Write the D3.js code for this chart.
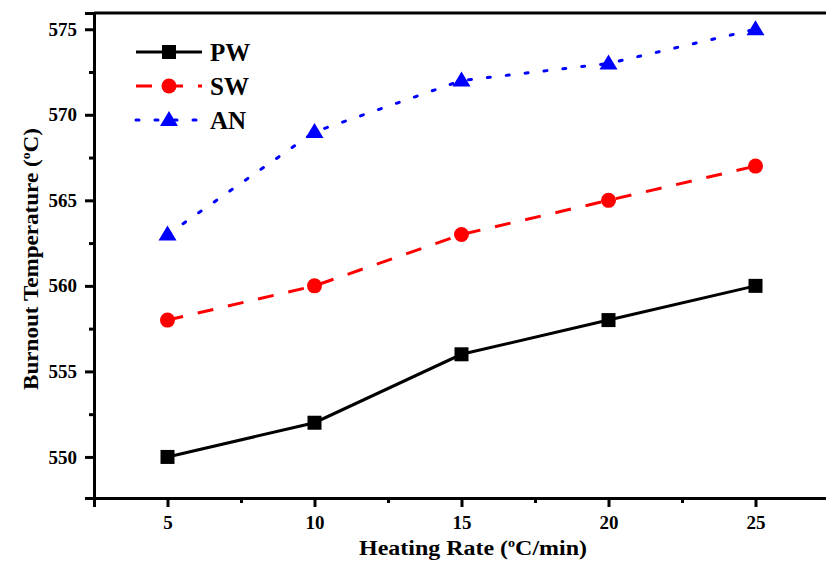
<!DOCTYPE html>
<html>
<head>
<meta charset="utf-8">
<script src="https://cdn.jsdelivr.net/npm/d3@7"></script>
<style>
  html, body { margin: 0; padding: 0; background: #fff; }
  svg { display: block; }
  text { font-family: "Liberation Serif", "Times New Roman", serif; font-weight: bold; fill: #000; }
</style>
</head>
<body>
<svg id="chart" width="826" height="561"></svg>
<script>
// Heating rates (°C/min)
const heatingRates = [5, 10, 15, 20, 25];
// Burnout temperatures (°C) per sample
const pwValues = [550, 552, 556, 558, 560];
const swValues = [558, 560, 563, 565, 567];
const anValues = [563, 569, 572, 573, 575];
const seriesNames = ["PW", "SW", "AN"];
const xTickValues = [5, 10, 15, 20, 25];
const yTickValues = [550, 555, 560, 565, 570, 575];

const svg = d3.select("#chart");
const margin = { left: 94, top: 13, right: -3, bottom: 63 };
const W = 826, H = 561;

const x = d3.scaleLinear().domain([2.5, 27.5]).range([margin.left, W - margin.right]);
const y = d3.scaleLinear().domain([547.6, 575.95]).range([H - margin.bottom, margin.top]);

const series = [
  { name: seriesNames[0], values: pwValues, color: "#000000", dash: null, cap: "butt", shape: "square" },
  { name: seriesNames[1], values: swValues, color: "#ff0000", dash: "16 15", cap: "butt", shape: "circle" },
  { name: seriesNames[2], values: anValues, color: "#0000ff", dash: "3 16", cap: "round", shape: "triangle" }
];

// Frame: top border
svg.append("line")
  .attr("x1", margin.left).attr("x2", W)
  .attr("y1", margin.top).attr("y2", margin.top)
  .attr("stroke", "#000").attr("stroke-width", 3);

// Axes
const xAxis = d3.axisBottom(x).tickValues(xTickValues).tickFormat(d3.format("d")).tickSize(9).tickPadding(9);
const xMinor = d3.axisBottom(x).tickValues([7.5, 12.5, 17.5, 22.5]).tickFormat("").tickSize(5);
const yAxis = d3.axisLeft(y).tickValues(yTickValues).tickFormat(d3.format("d")).tickSize(9).tickPadding(8);
const yMinor = d3.axisLeft(y).tickValues([552.5, 557.5, 562.5, 567.5, 572.5]).tickFormat("").tickSize(5);

function styleAxis(g) {
  g.attr("font-family", null).attr("font-size", null);
  g.select(".domain").attr("stroke", "#000").attr("stroke-width", 3);
  g.selectAll(".tick line").attr("stroke", "#000").attr("stroke-width", 3);
  g.selectAll(".tick text")
    .style("font-size", "19px")
    .style("font-family", "'Liberation Serif', serif")
    .style("font-weight", "bold");
}

const bottomY = y.range()[0];
svg.append("g").attr("transform", `translate(0,${bottomY})`).call(xMinor).call(styleAxis);
svg.append("g").attr("transform", `translate(0,${bottomY})`).call(xAxis).call(styleAxis);
svg.append("g").attr("transform", `translate(${margin.left},0)`).call(yMinor).call(styleAxis);
svg.append("g").attr("transform", `translate(${margin.left},0)`).call(yAxis).call(styleAxis);

// Stretch a centred title horizontally (in its own frame) to a given length
function fitWidth(textSel, target) {
  const w = textSel.node().getBBox().width;
  return target / w;
}

// Axis titles
const xTitle = svg.append("text")
  .attr("text-anchor", "middle")
  .style("font-size", "22px");
xTitle.append("tspan").text("Heating Rate (");
xTitle.append("tspan").text("o").attr("dy", -8).style("font-size", "13px");
xTitle.append("tspan").text("C/min)").attr("dy", 8);
const kx = fitWidth(xTitle, 228);
xTitle.attr("transform", `translate(473,555) scale(${kx},1)`);

const yTitle = svg.append("text")
  .attr("text-anchor", "middle")
  .style("font-size", "22px");
yTitle.append("tspan").text("Burnout Temperature (");
yTitle.append("tspan").text("o").attr("dy", -8).style("font-size", "13px");
yTitle.append("tspan").text("C)").attr("dy", 8);
const ky = fitWidth(yTitle, 262);
yTitle.attr("transform", `translate(38,259) rotate(-90) scale(${ky},1)`);

// Marker drawing
function drawMarker(g, shape, cx, cy, color) {
  if (shape === "square") {
    g.append("rect").attr("x", cx - 7).attr("y", cy - 7).attr("width", 14).attr("height", 14).attr("fill", color);
  } else if (shape === "circle") {
    g.append("circle").attr("cx", cx).attr("cy", cy).attr("r", 7.5).attr("fill", color);
  } else {
    g.append("path")
      .attr("d", `M${cx},${cy - 9}L${cx + 9},${cy + 6}L${cx - 9},${cy + 6}Z`)
      .attr("fill", color);
  }
}

const line = d3.line().x((d, i) => x(heatingRates[i])).y(d => y(d));

series.forEach(s => {
  const g = svg.append("g");
  g.append("path")
    .datum(s.values)
    .attr("d", line)
    .attr("fill", "none")
    .attr("stroke", s.color)
    .attr("stroke-width", 3)
    .attr("stroke-linecap", s.cap)
    .attr("stroke-dasharray", s.dash);
  s.values.forEach((v, i) => drawMarker(g, s.shape, x(heatingRates[i]), y(v), s.color));
});

// Legend
const legend = svg.append("g");
series.forEach((s, i) => {
  const ly = 52 + i * 34;
  legend.append("line")
    .attr("x1", 136).attr("x2", 202).attr("y1", ly).attr("y2", ly)
    .attr("stroke", s.color).attr("stroke-width", 3)
    .attr("stroke-linecap", s.cap)
    .attr("stroke-dasharray", s.dash);
  drawMarker(legend, s.shape, 169, ly, s.color);
  legend.append("text")
    .attr("x", 210).attr("y", ly + 9)
    .style("font-size", "25px")
    .text(s.name);
});
</script>
</body>
</html>
